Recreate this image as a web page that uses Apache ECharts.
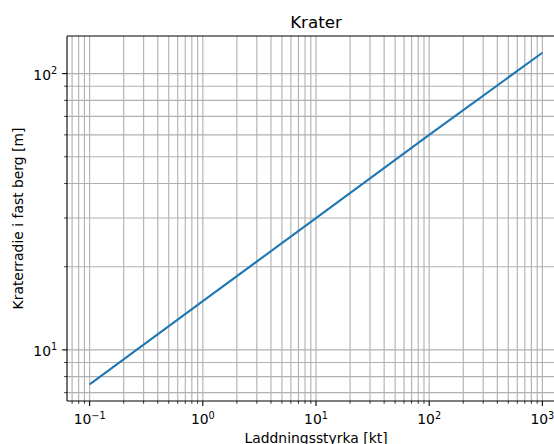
<!DOCTYPE html>
<html><head><meta charset="utf-8">
<script src="https://cdn.jsdelivr.net/npm/echarts@6/dist/echarts.min.js"></script>
<style>html,body{margin:0;padding:0;background:#fff}#c{width:554px;height:444px}</style>
</head><body><div id="c"></div>
<script>
// ---- data ----
const chargeKt = [0.1, 1, 10, 100, 1000];
const radiusM = [7.5, 15, 30, 60, 119];
const xRange = [0.0631, 1585];
const yRange = [6.53, 136.8];
const xMajorTicks = [0.1, 1, 10, 100, 1000];
const xTickExponents = ['\u22121', '0', '1', '2', '3'];
const yMajorTicks = [10, 100];
const yTickExponents = ['1', '2'];
const minorMultipliers = [2, 3, 4, 5, 6, 7, 8, 9];
const titleText = 'Krater';
const xName = 'Laddningsstyrka [kt]';
const yName = 'Kraterradie i fast berg [m]';

const L = Math.log10;
const FONT = 'DejaVu Sans';
const inRange = (v, r) => v >= r[0] && v <= r[1];
function minors(majors, r) {
  const bases = [majors[0] / 10].concat(majors);
  const out = [];
  bases.forEach(b => minorMultipliers.forEach(m => { const v = b * m; if (inRange(v, r)) out.push(v); }));
  return out;
}
const xMinor = minors(xMajorTicks, xRange);
const yMinor = minors(yMajorTicks, yRange);

const richStyle = {
  b: { fontFamily: FONT, fontSize: 13.9, fill: '#000', color: '#000', lineHeight: 16, verticalAlign: 'bottom' },
  s: { fontFamily: FONT, fontSize: 9.7, fill: '#000', color: '#000', lineHeight: 6, verticalAlign: 'top' }
};

function renderFrame(params, api) {
  const ch = [];
  const bl = api.coord([L(xRange[0]), L(yRange[0])]);
  const tr = api.coord([L(xRange[1]), L(yRange[1])]);
  const left = bl[0], bottom = bl[1], right = tr[0], top = tr[1];
  const grid = { stroke: '#b0b0b0', lineWidth: 1.1 };
  const tickStyle = { stroke: '#000', lineWidth: 1.1 };
  const minorStyle = { stroke: '#000', lineWidth: 0.8 };
  xMajorTicks.concat(xMinor).forEach(v => {
    if (!inRange(v, xRange)) return;
    const p = api.coord([L(v), L(yRange[0])])[0];
    ch.push({ type: 'line', shape: { x1: p, y1: top, x2: p, y2: bottom }, style: grid });
  });
  yMajorTicks.concat(yMinor).forEach(v => {
    if (!inRange(v, yRange)) return;
    const p = api.coord([L(xRange[0]), L(v)])[1];
    ch.push({ type: 'line', shape: { x1: left, y1: p, x2: right, y2: p }, style: grid });
  });
  // spines
  const sp = { stroke: '#000', lineWidth: 1.1 };
  ch.push({ type: 'line', shape: { x1: left, y1: top, x2: left, y2: bottom }, style: sp });
  ch.push({ type: 'line', shape: { x1: left, y1: bottom, x2: right, y2: bottom }, style: sp });
  ch.push({ type: 'line', shape: { x1: left, y1: top, x2: right, y2: top }, style: sp });
  ch.push({ type: 'line', shape: { x1: right, y1: top, x2: right, y2: bottom }, style: sp });
  // ticks
  xMajorTicks.forEach((v, i) => {
    const p = api.coord([L(v), L(yRange[0])])[0];
    ch.push({ type: 'line', shape: { x1: p, y1: bottom, x2: p, y2: bottom + 4.9 }, style: tickStyle });
    ch.push({ type: 'text', x: p, y: bottom + 9.0, style: { text: '{b|10}{s|' + xTickExponents[i] + '}', rich: richStyle, align: 'center', verticalAlign: 'top' } });
  });
  xMinor.forEach(v => {
    const p = api.coord([L(v), L(yRange[0])])[0];
    ch.push({ type: 'line', shape: { x1: p, y1: bottom, x2: p, y2: bottom + 2.8 }, style: minorStyle });
  });
  yMajorTicks.forEach((v, i) => {
    const p = api.coord([L(xRange[0]), L(v)])[1];
    ch.push({ type: 'line', shape: { x1: left, y1: p, x2: left - 4.9, y2: p }, style: tickStyle });
    ch.push({ type: 'text', x: left - 9.8, y: p, style: { text: '{b|10}{s|' + yTickExponents[i] + '}', rich: richStyle, align: 'right', verticalAlign: 'middle' } });
  });
  yMinor.forEach(v => {
    const p = api.coord([L(xRange[0]), L(v)])[1];
    ch.push({ type: 'line', shape: { x1: left, y1: p, x2: left - 2.8, y2: p }, style: minorStyle });
  });
  return { type: 'group', children: ch };
}

const chart = echarts.init(document.getElementById('c'), null, { renderer: 'svg' });
chart.setOption({
  animation: false,
  backgroundColor: '#fff',
  title: {
    text: titleText, left: 316, top: 13, padding: 0, textAlign: 'center',
    textStyle: { fontFamily: FONT, fontSize: 16.7, fontWeight: 'normal', color: '#000' }
  },
  grid: { left: 67, top: 36, width: 498, height: 365, containLabel: false, outerBoundsMode: 'none' },
  xAxis: {
    type: 'value', min: L(xRange[0]), max: L(xRange[1]),
    axisLine: { show: false }, axisTick: { show: false }, axisLabel: { show: false }, splitLine: { show: false },
    name: xName, nameLocation: 'middle', nameGap: 30,
    nameTextStyle: { fontFamily: FONT, fontSize: 13.9, color: '#000' }
  },
  yAxis: {
    type: 'value', min: L(yRange[0]), max: L(yRange[1]),
    axisLine: { show: false }, axisTick: { show: false }, axisLabel: { show: false }, splitLine: { show: false },
    name: yName, nameLocation: 'middle', nameGap: 42, nameRotate: 90,
    nameTextStyle: { fontFamily: FONT, fontSize: 13.9, color: '#000' }
  },
  series: [
    {
      type: 'custom', coordinateSystem: 'cartesian2d', clip: false, silent: true, z: 1,
      data: [[L(xRange[0]), L(yRange[0])]], renderItem: renderFrame
    },
    {
      type: 'line', z: 3, showSymbol: false, silent: true,
      data: chargeKt.map((v, i) => [L(v), L(radiusM[i])]),
      lineStyle: { color: '#1f77b4', width: 2.1 }
    }
  ]
});
</script></body></html>
